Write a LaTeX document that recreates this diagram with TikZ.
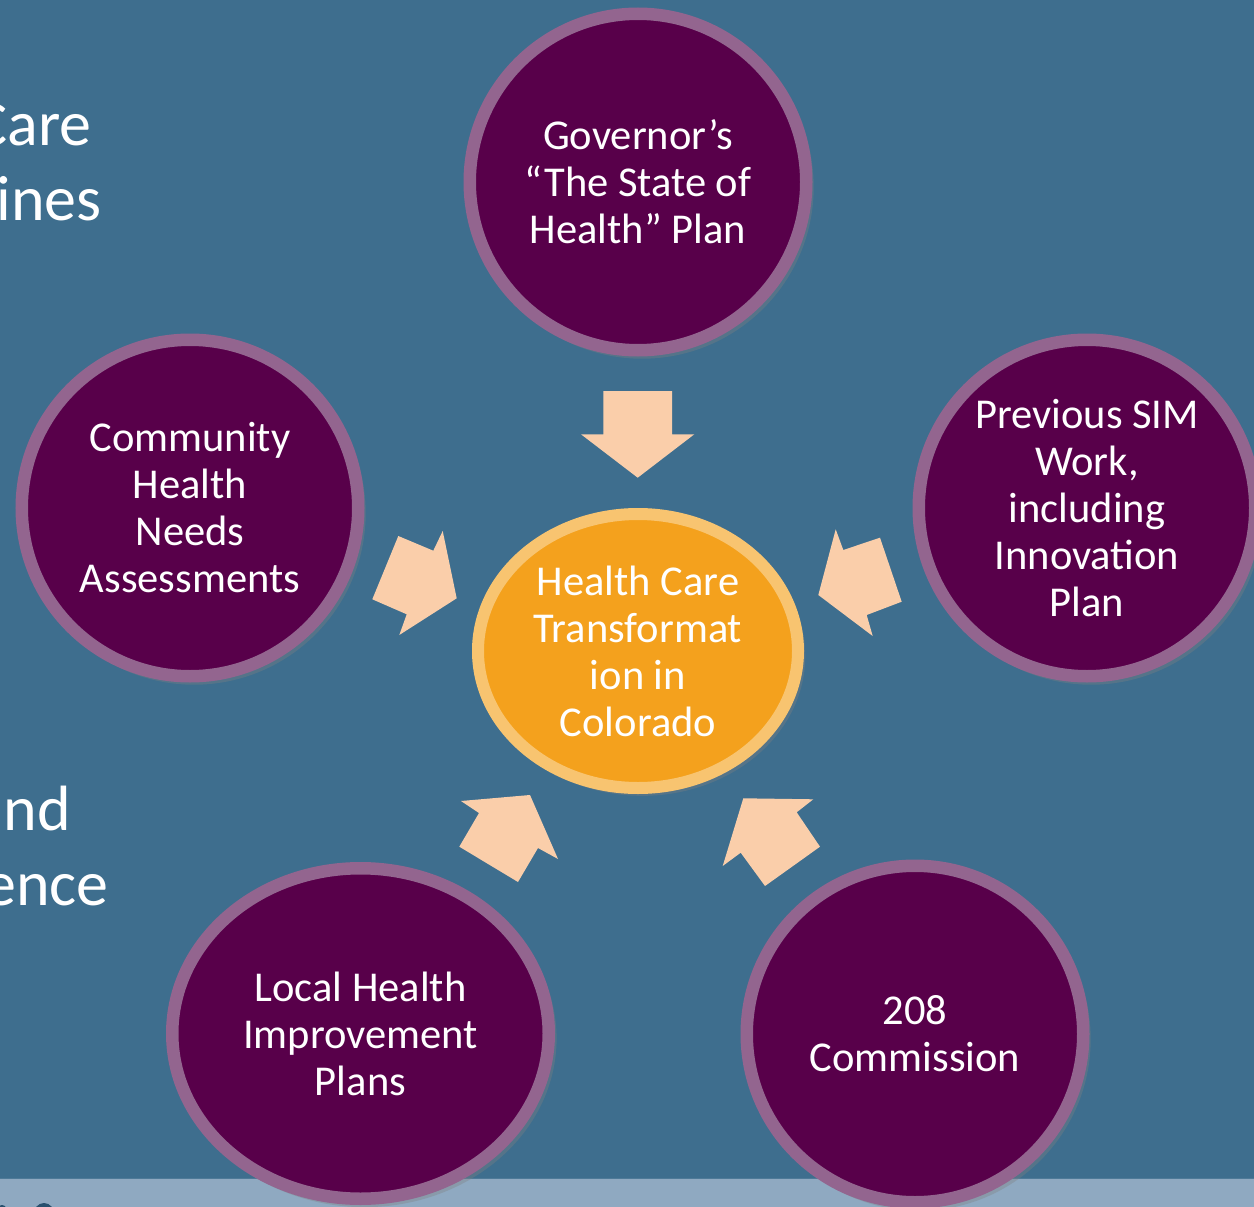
\documentclass[tikz,border=0pt]{standalone}
\usepackage{fontspec}
\setmainfont{Carlito}
\usetikzlibrary{shapes.geometric,shadows}
\definecolor{bgblue}{RGB}{62,110,142}
\definecolor{stripc}{RGB}{143,169,193}
\definecolor{purfill}{RGB}{88,0,74}
\definecolor{purring}{RGB}{147,101,143}
\definecolor{orfill}{RGB}{244,161,29}
\definecolor{orring}{RGB}{248,196,112}
\definecolor{arrowc}{RGB}{250,206,170}
\definecolor{logoc}{RGB}{40,80,110}
\tikzset{
  outer/.style={circle, draw=purring, fill=purfill, line width=12.5pt,
    minimum size=336.5pt, inner sep=0pt, align=center, text=white,
    font=\fontsize{42.5}{47}\selectfont,
    drop shadow={shadow xshift=4pt, shadow yshift=-5pt, opacity=0.35, shadow scale=1.02}},
  outerwide/.style={outer, ellipse, minimum width=376.5pt, minimum height=330.5pt},
  hub/.style={ellipse, draw=orring, fill=orfill, line width=12pt,
    minimum width=320pt, minimum height=274pt, inner sep=0pt, align=center, text=white,
    font=\fontsize{42.5}{47}\selectfont,
    drop shadow={shadow xshift=4pt, shadow yshift=-5pt, opacity=0.35, shadow scale=1.02}},
  sidetext/.style={anchor=base east, text=white, inner sep=0pt, font=\fontsize{64}{77}\selectfont},
  blockarrow/.style={fill=arrowc}
}
\begin{document}
\begin{tikzpicture}[x=1pt,y=-1pt]
\useasboundingbox (0,0) rectangle (1254,1207);
\fill[bgblue] (0,0) rectangle (1254,1207);
\fill[stripc] (0,1178) rectangle (1254,1207);
\draw[bgblue!80!stripc, line width=1pt] (0,1178.5) -- (1254,1178.5);
\begin{scope}
\clip (0,1178) rectangle (1254,1207);
\fill[logoc] (44,1216) ellipse (11 and 13);
\fill[logoc] (2,1214) ellipse (6 and 9);
\end{scope}

% partial side texts
\node[sidetext] (t1) at (92,145) {Care};
\node[sidetext] (t2) at (102,220) {lines};
\node[sidetext] (t3) at (71,830) {and};
\node[sidetext] (t4) at (109,905) {ence};

% arrows
\fill[blockarrow] (603.3,391) -- (672,391) -- (672,434.3) -- (694.3,434.3) -- (637.7,477.7) -- (581,434.3) -- (603.3,434.3) -- cycle;
\fill[blockarrow] (398.3,536) -- (433.3,550.7) -- (442.7,531) -- (456.7,598.3) -- (399.3,635) -- (406.7,614.3) -- (372.3,599.3) -- cycle;
\fill[blockarrow] (835.7,529.3) -- (843.3,550) -- (880,537.7) -- (901.7,601.7) -- (866.7,615) -- (872.7,636) -- (818.3,595) -- cycle;
\fill[blockarrow] (461,801) -- (530,795) -- (558,859) -- (538,848) -- (518,882) -- (459.3,846.7) -- (479,813) -- cycle;
\fill[blockarrow] (743.3,798.3) -- (813.3,799.3) -- (796.7,812.3) -- (820,846.7) -- (765,886) -- (740.7,852.7) -- (722.7,866) -- cycle;

% circles
\node[outer] (gov) at (638,182) {Governor’s\\“The State of\\Health” Plan};
\node[outer] (chna) at (190,508) {Community\\Health\\Needs\\Assessments};
\node[outer] (sim) at (1087,508) {Previous SIM\\Work,\\including\\Innovation\\Plan};
\node[outerwide] (lhip) at (360.5,1033.5) {Local Health\\Improvement\\Plans};
\node[outer] (comm) at (915,1034) {208\\Commission};
\node[hub] (hub) at (638,651) {Health Care\\Transformat\\ion in\\Colorado};
\end{tikzpicture}
\end{document}
